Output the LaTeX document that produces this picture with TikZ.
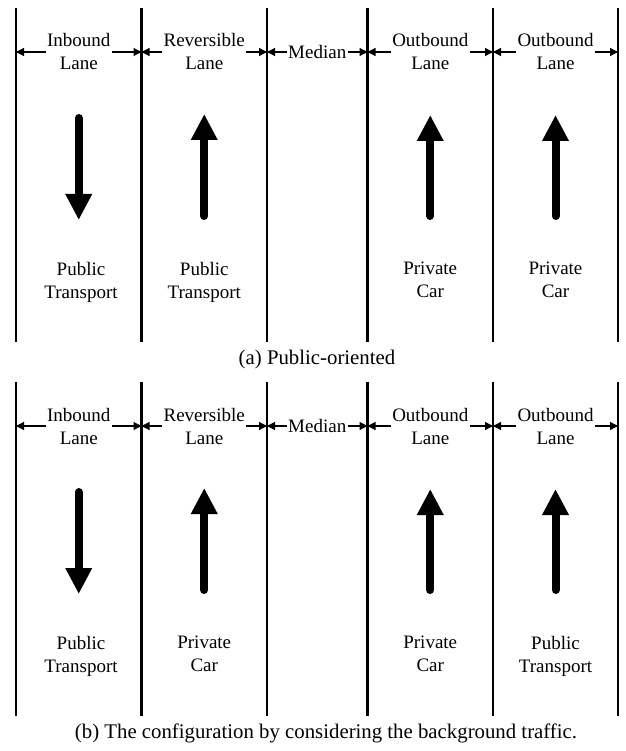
\documentclass[tikz,border=0pt]{standalone}
\usepackage{fontspec}
\setmainfont{Liberation Serif}
\usetikzlibrary{arrows.meta}

% One road cross-section: #1 name prefix, #2 vertical offset,
% #3..#6 traffic type of lanes 1, 2, 4, 5; #7 caption centre x; #8 caption
\newcommand\roadpanel[8]{%
  \begin{scope}[shift={(0,#2)}]
    % lane borders
    \foreach \i/\x in {1/16,2/141.5,3/267,4/367.5,5/493,6/618}{
      \coordinate (#1t\i) at (\x,8);
      \coordinate (#1b\i) at (\x,342);
      \draw[border] (#1t\i) -- (#1b\i);
    }
    % lane names
    \node[lanelabel] (#1l1) at (78.75,52) {Inbound\\Lane};
    \node[lanelabel] (#1l2) at (204.25,52) {Reversible\\Lane};
    \node[lanelabel] (#1l3) at (317.25,52) {Median};
    \node[lanelabel] (#1l4) at (430.25,52) {Outbound\\Lane};
    \node[lanelabel] (#1l5) at (555.5,52) {Outbound\\Lane};
    % width dimension lines
    \foreach \i/\j in {1/2,2/3,3/4,4/5,5/6}{
      \draw[dim] (#1l\i.west) -- (#1l\i.west -| #1t\i);
      \draw[dim] (#1l\i.east) -- (#1l\i.east -| #1t\j);
    }
    % direction of travel
    \coordinate (#1s1) at (78.75,118);  \coordinate (#1e1) at (78.75,220);
    \coordinate (#1s2) at (204.25,216); \coordinate (#1e2) at (204.25,114);
    \coordinate (#1s4) at (430.25,216); \coordinate (#1e4) at (430.25,115);
    \coordinate (#1s5) at (555.5,216);  \coordinate (#1e5) at (555.5,115);
    \foreach \i in {1,2,4,5}{
      \draw[flow] (#1s\i) -- (#1e\i);
    }
    % traffic assigned to each lane
    \node[usetext] (#1u1) at (81,262) {#3};
    \node[usetext] (#1u2) at (204.25,262) {#4};
    \node[usetext] (#1u4) at (430.25,262) {#5};
    \node[usetext] (#1u5) at (555.5,262) {#6};
    % caption
    \node[captext] (#1cap) at (#7,364) {#8};
  \end{scope}%
}

\begin{document}
\begin{tikzpicture}[x=1pt,y=-1pt,
  border/.style={line width=2.6pt},
  dim/.style={line width=1.2pt,-{Triangle[length=8pt,width=8pt]}},
  lanelabel/.style={font=\fontsize{19}{23}\selectfont,align=center,inner sep=1.2pt},
  flow/.style={line width=8pt,line cap=round,-{Triangle[length=26pt,width=25pt]}},
  usetext/.style={font=\fontsize{19}{23}\selectfont,align=center,inner sep=0pt,anchor=north},
  captext/.style={font=\fontsize{20.8}{24}\selectfont,anchor=base}]
\useasboundingbox (0,0) rectangle (625,751);

\roadpanel{a}{0}{Public\\Transport}{Public\\Transport}{Private\\Car}{Private\\Car}%
  {317}{(a) Public-oriented}
\roadpanel{b}{374}{Public\\Transport}{Private\\Car}{Private\\Car}{Public\\Transport}%
  {326}{(b) The configuration by considering the background traffic.}
\end{tikzpicture}
\end{document}
